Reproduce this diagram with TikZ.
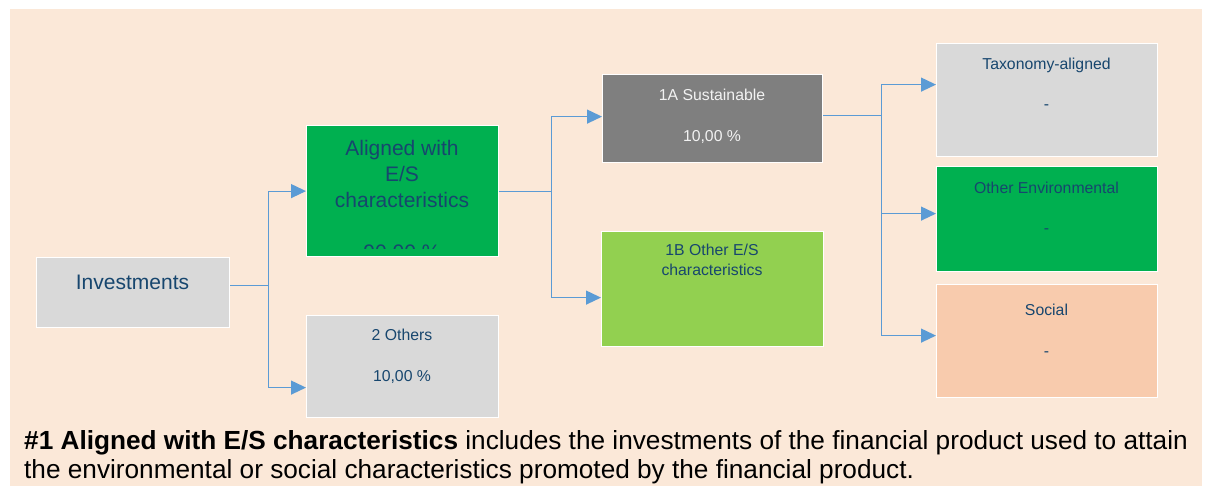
\documentclass[tikz,border=0pt]{standalone}
\usepackage{fontspec}
\setmainfont{Liberation Sans}
\usetikzlibrary{arrows.meta,positioning}
\definecolor{peach}{HTML}{FBE8D8}
\definecolor{boxgray}{HTML}{D9D9D9}
\definecolor{darkgray}{HTML}{7F7F7F}
\definecolor{esgreen}{HTML}{00B050}
\definecolor{lightgreen}{HTML}{92D050}
\definecolor{salmon}{HTML}{F8CBAD}
\definecolor{navytext}{HTML}{17466E}
\definecolor{linkblue}{HTML}{5B9BD5}
\begin{document}
\begin{tikzpicture}[x=1pt,y=-1pt,
	box/.style={draw=white,line width=1.2pt,anchor=north west,inner sep=0pt},
	lbl/.style={anchor=base,inner sep=0pt,text=navytext,font=\fontsize{15.8}{18}\selectfont},
	biglbl/.style={lbl,font=\fontsize{21}{25}\selectfont},
	link/.style={draw=linkblue,line width=1.2pt,-{Triangle[length=15pt,width=14pt]}}]
	\useasboundingbox (0,0) rectangle (1208,495);
	\fill[peach] (10,9) rectangle (1202,486);
	
	% boxes
	\node[box,fill=boxgray,minimum width=193pt,minimum height=70pt] (inv) at (36,257) {};
	\node[box,fill=esgreen,minimum width=192pt,minimum height=131pt] (al) at (306,125) {};
	\node[box,fill=boxgray,minimum width=192pt,minimum height=102pt] (oth) at (306,315) {};
	\node[box,fill=darkgray,minimum width=220pt,minimum height=88pt] (sus) at (602,74) {};
	\node[box,fill=lightgreen,minimum width=222pt,minimum height=115pt] (ores) at (601,231) {};
	\node[box,fill=boxgray,minimum width=221pt,minimum height=113pt] (tax) at (936,43) {};
	\node[box,fill=esgreen,minimum width=221pt,minimum height=105pt] (env) at (936,166) {};
	\node[box,fill=salmon,minimum width=221pt,minimum height=113pt] (soc) at (936,284) {};
	
	% texts
	\node[biglbl] (inv-t) at (132.5,289) {Investments};
	\node[biglbl] (al-t1) at (402,155) {Aligned with};
	\node[biglbl] (al-t2) at (402,181) {E/S};
	\node[biglbl] (al-t3) at (402,207) {characteristics};
	\begin{scope}
		\clip (306,125) rectangle (498,248);
		\node[biglbl] (al-t4) at (402,259) {90,00 \%};
	\end{scope}
	\node[lbl] (oth-t1) at (402,340.5) {2 Others};
	\node[lbl] (oth-t2) at (402,381.5) {10,00 \%};
	\node[lbl,text=white!95!black] (sus-t1) at (712,100) {1A Sustainable};
	\node[lbl,text=white!95!black] (sus-t2) at (712,141) {10,00 \%};
	\node[lbl] (ores-t1) at (712,255.5) {1B Other E/S};
	\node[lbl] (ores-t2) at (712,275.5) {characteristics};
	\node[lbl] (tax-t1) at (1046.5,69.5) {Taxonomy-aligned};
	\node[lbl] (tax-t2) at (1046.5,109.5) {-};
	\node[lbl] (env-t1) at (1046.5,193.5) {Other Environmental};
	\node[lbl] (env-t2) at (1046.5,233.5) {-};
	\node[lbl] (soc-t1) at (1046.5,315.5) {Social};
	\node[lbl] (soc-t2) at (1046.5,356) {-};
	
	% connectors
	\draw[link] ([yshift=7pt]inv.east) -- ++(38,0) |- (al.west);
	\draw[link] ([yshift=7pt]inv.east) -- ++(38,0) |- ([yshift=-21pt]oth.west);
	\draw[link] (al.east) -- ++(52,0) |- ([yshift=2pt]sus.west);
	\draw[link] (al.east) -- ++(52,0) |- ([yshift=-8.5pt]ores.west);
	\draw[link] ([yshift=3pt]sus.east) -- ++(58,0) |- ([yshift=15.5pt]tax.west);
	\draw[link] ([yshift=3pt]sus.east) -- ++(58,0) |- ([yshift=5.5pt]env.west);
	\draw[link] ([yshift=3pt]sus.east) -- ++(58,0) |- ([yshift=5.5pt]soc.west);
	
	% caption
	\node[anchor=base west,inner sep=0pt,font=\fontsize{26.2}{30}\selectfont] (cap1) at (24,449)
		{\textbf{\#1 Aligned with E/S characteristics} includes the investments of the financial product used to attain};
	\node[anchor=base west,inner sep=0pt,font=\fontsize{26.2}{30}\selectfont] (cap2) at (24,478)
		{the environmental or social characteristics promoted by the financial product.};
\end{tikzpicture}
\end{document}
